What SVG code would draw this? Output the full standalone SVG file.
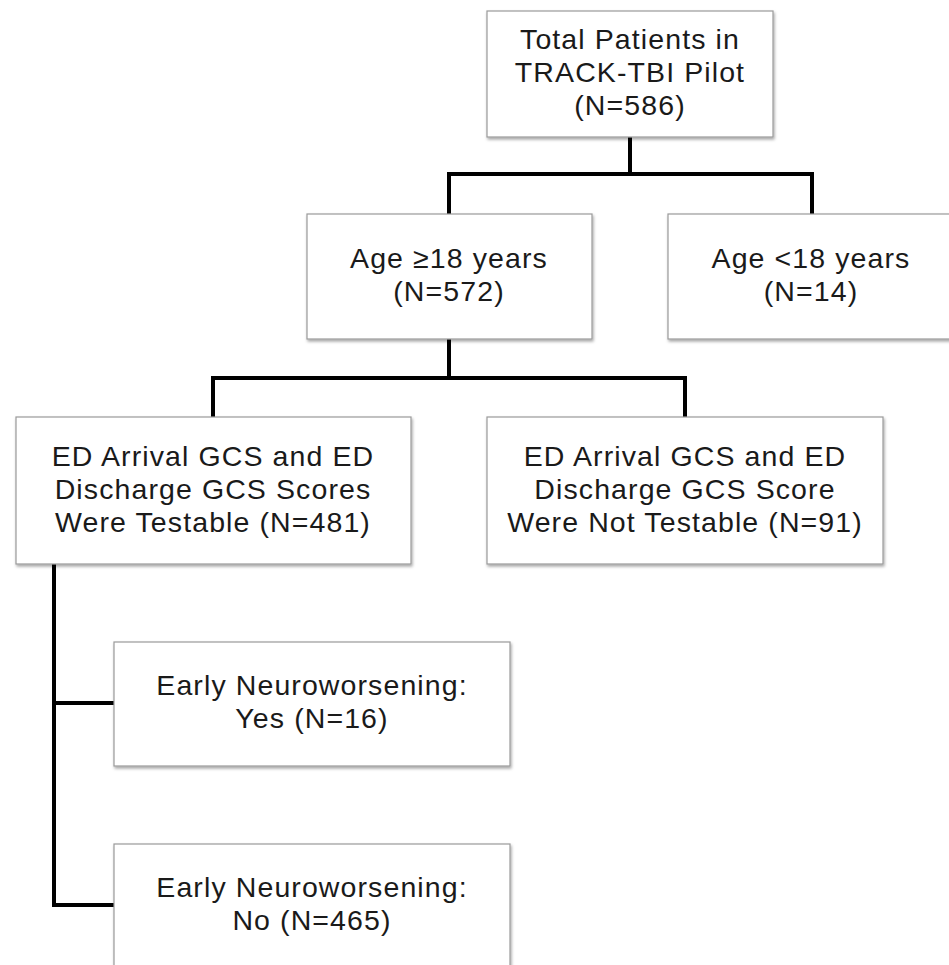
<svg xmlns="http://www.w3.org/2000/svg" width="949" height="965" viewBox="0 0 949 965">
<defs>
<filter id="sh" x="-5%" y="-5%" width="115%" height="120%">
<feDropShadow dx="1" dy="2" stdDeviation="1.5" flood-color="#000" flood-opacity="0.35"/>
</filter>
</defs>
<style>
.box{fill:#fff;stroke:#9a9a9a;stroke-width:1.2;filter:url(#sh)}
.t{font-family:"Liberation Sans",Arial,sans-serif;font-size:28.5px;letter-spacing:1.1px;fill:#1a1a1a;text-anchor:middle}
.c{fill:none;stroke:#000;stroke-width:4;stroke-linejoin:miter;stroke-linecap:butt}
</style>
<rect width="949" height="965" fill="#fff"/>
<g id="connectors">
<path class="c" d="M630,137 V174"/>
<path class="c" d="M449,214 V174 H812 V214"/>
<path class="c" d="M449,339 V378"/>
<path class="c" d="M213,417 V378 H685 V417"/>
<path class="c" d="M54,564 V905 H114"/>
<path class="c" d="M54,703 H114"/>
</g>
<g id="total">
<rect class="box" x="487" y="11" width="286" height="126"/>
<text class="t" x="630" y="49">Total Patients in</text>
<text class="t" x="630" y="82">TRACK-TBI Pilot</text>
<text class="t" x="630" y="115">(N=586)</text>
</g>
<g id="age18plus">
<rect class="box" x="307" y="214" width="285" height="125"/>
<text class="t" x="449" y="268">Age ≥18 years</text>
<text class="t" x="449" y="301">(N=572)</text>
</g>
<g id="age18minus">
<rect class="box" x="668" y="214" width="300" height="125"/>
<text class="t" x="811" y="268">Age &lt;18 years</text>
<text class="t" x="811" y="301">(N=14)</text>
</g>
<g id="testable">
<rect class="box" x="16" y="417" width="395" height="147"/>
<text class="t" x="213" y="466">ED Arrival GCS and ED</text>
<text class="t" x="213" y="499">Discharge GCS Scores</text>
<text class="t" x="213" y="532">Were Testable (N=481)</text>
</g>
<g id="nottestable">
<rect class="box" x="487" y="417" width="396" height="147"/>
<text class="t" x="685" y="466">ED Arrival GCS and ED</text>
<text class="t" x="685" y="499">Discharge GCS Score</text>
<text class="t" x="685" y="532">Were Not Testable (N=91)</text>
</g>
<g id="yes">
<rect class="box" x="114" y="642" width="396" height="124"/>
<text class="t" x="312" y="695">Early Neuroworsening:</text>
<text class="t" x="312" y="728">Yes (N=16)</text>
</g>
<g id="no">
<rect class="box" x="114" y="844" width="396" height="140"/>
<text class="t" x="312" y="897">Early Neuroworsening:</text>
<text class="t" x="312" y="930">No (N=465)</text>
</g>
</svg>
